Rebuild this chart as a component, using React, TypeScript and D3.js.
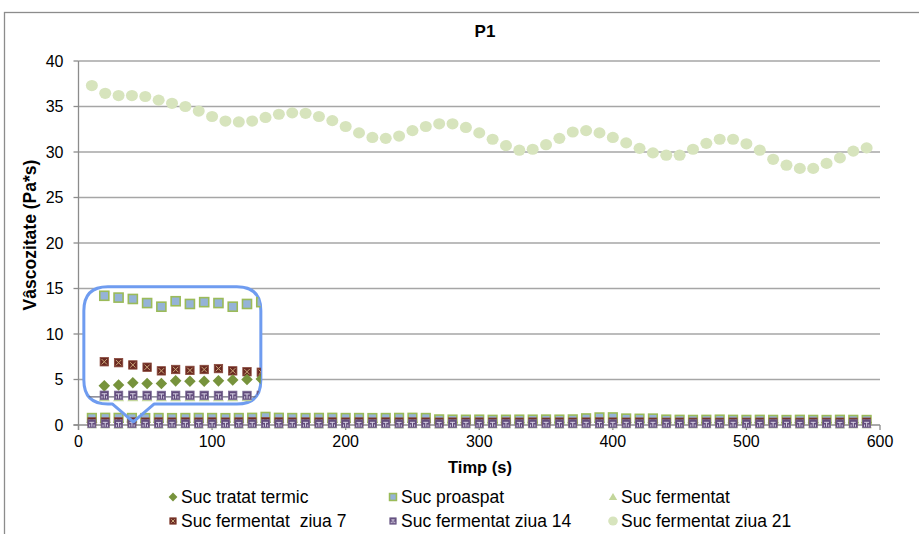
import React from "react";
import * as d3 from "d3";

// Time axis (s)
const times = [
  10, 20, 30, 40, 50, 60, 70, 80, 90, 100,
  110, 120, 130, 140, 150, 160, 170, 180, 190, 200,
  210, 220, 230, 240, 250, 260, 270, 280, 290, 300,
  310, 320, 330, 340, 350, 360, 370, 380, 390, 400,
  410, 420, 430, 440, 450, 460, 470, 480, 490, 500,
  510, 520, 530, 540, 550, 560, 570, 580, 590,
];

// Viscosity (Pa*s) per sample
const tratatTermic = [
  0.3, 0.31, 0.3, 0.32, 0.31, 0.3, 0.32, 0.31, 0.3, 0.31,
  0.32, 0.31, 0.3, 0.31, 0.3, 0.31, 0.3, 0.31, 0.3, 0.31,
  0.3, 0.29, 0.3, 0.31, 0.3, 0.29, 0.28, 0.29, 0.28, 0.29,
  0.28, 0.29, 0.28, 0.29, 0.28, 0.29, 0.28, 0.29, 0.3, 0.29,
  0.28, 0.29, 0.28, 0.27, 0.28, 0.27, 0.28, 0.27, 0.28, 0.27,
  0.28, 0.27, 0.28, 0.27, 0.28, 0.27, 0.28, 0.27, 0.28,
];
const proaspat = [
  0.78, 0.8, 0.79, 0.78, 0.77, 0.78, 0.77, 0.78, 0.79, 0.78,
  0.77, 0.78, 0.8, 0.9, 0.8, 0.78, 0.78, 0.79, 0.8, 0.78,
  0.78, 0.77, 0.78, 0.79, 0.8, 0.78, 0.62, 0.6, 0.59, 0.6,
  0.58, 0.59, 0.6, 0.6, 0.61, 0.6, 0.62, 0.74, 0.84, 0.85,
  0.72, 0.7, 0.72, 0.6, 0.58, 0.57, 0.58, 0.6, 0.58, 0.57,
  0.58, 0.57, 0.56, 0.58, 0.57, 0.56, 0.58, 0.57, 0.56,
];
const fermentat = [
  0.05, 0.05, 0.04, 0.05, 0.05, 0.04, 0.05, 0.05, 0.04, 0.05,
  0.05, 0.04, 0.05, 0.05, 0.04, 0.05, 0.05, 0.04, 0.05, 0.05,
  0.04, 0.05, 0.05, 0.04, 0.05, 0.05, 0.04, 0.05, 0.05, 0.04,
  0.05, 0.05, 0.04, 0.05, 0.05, 0.04, 0.05, 0.05, 0.04, 0.05,
  0.05, 0.04, 0.05, 0.05, 0.04, 0.05, 0.05, 0.04, 0.05, 0.05,
  0.04, 0.05, 0.05, 0.04, 0.05, 0.05, 0.04, 0.05, 0.05,
];
const fermentatZiua7 = [
  0.36, 0.35, 0.36, 0.35, 0.34, 0.35, 0.34, 0.35, 0.34, 0.35,
  0.34, 0.35, 0.36, 0.37, 0.35, 0.34, 0.35, 0.34, 0.35, 0.34,
  0.35, 0.34, 0.35, 0.34, 0.35, 0.34, 0.33, 0.34, 0.33, 0.34,
  0.33, 0.34, 0.33, 0.34, 0.33, 0.34, 0.33, 0.34, 0.35, 0.34,
  0.33, 0.34, 0.33, 0.32, 0.33, 0.32, 0.33, 0.32, 0.33, 0.32,
  0.33, 0.32, 0.33, 0.32, 0.33, 0.32, 0.33, 0.32, 0.33,
];
const fermentatZiua14 = [
  0.14, 0.14, 0.13, 0.14, 0.14, 0.13, 0.14, 0.14, 0.13, 0.14,
  0.14, 0.13, 0.14, 0.14, 0.13, 0.14, 0.14, 0.13, 0.14, 0.14,
  0.13, 0.14, 0.14, 0.13, 0.14, 0.14, 0.13, 0.14, 0.14, 0.13,
  0.14, 0.14, 0.13, 0.14, 0.14, 0.13, 0.14, 0.14, 0.13, 0.14,
  0.14, 0.13, 0.14, 0.14, 0.13, 0.14, 0.14, 0.13, 0.14, 0.14,
  0.13, 0.14, 0.14, 0.13, 0.14, 0.14, 0.13, 0.14, 0.14,
];
const fermentatZiua21 = [
  37.3, 36.45, 36.2, 36.2, 36.1, 35.7, 35.35, 35.0, 34.5, 33.9,
  33.4, 33.3, 33.4, 33.8, 34.15, 34.3, 34.25, 33.9, 33.45, 32.8,
  32.1, 31.6, 31.5, 31.75, 32.35, 32.8, 33.1, 33.1, 32.7, 32.1,
  31.4, 30.7, 30.2, 30.3, 30.8, 31.5, 32.2, 32.35, 32.1, 31.6,
  31.0, 30.4, 29.9, 29.65, 29.65, 30.3, 30.95, 31.4, 31.4, 30.9,
  30.2, 29.2, 28.55, 28.2, 28.2, 28.75, 29.35, 30.1, 30.45,
];

// Magnified detail of the first readings, shown inside the callout
const insetTimes = [10, 20, 30, 40, 50, 60, 70, 80, 90, 100, 110, 120];
const insetProaspat = [14.2, 14.0, 13.85, 13.4, 13.0, 13.6, 13.3, 13.5, 13.4, 13.0, 13.3, 13.5];
const insetZiua7 = [6.95, 6.85, 6.6, 6.35, 5.95, 6.1, 6.0, 6.1, 6.2, 5.95, 5.85, 5.8];
const insetTratat = [4.3, 4.4, 4.65, 4.55, 4.55, 4.85, 4.8, 4.8, 4.85, 4.95, 5.0, 5.05];
const insetZiua14 = [3.27, 3.26, 3.27, 3.26, 3.25, 3.26, 3.27, 3.26, 3.25, 3.26, 3.25, 3.26];
const insetFermentat = [3.05, 3.05, 3.05, 3.05, 3.05, 3.05, 3.05, 3.05, 3.05, 3.05, 3.05, 3.05];
const insetBaseline = 3.1;

// Callout outline in data units: box corners, pointer base and tip
const calloutBox = { t0: 4, t1: 136.5, v0: 2.3, v1: 15.2 };
const calloutPointer = { tLeft: 25.5, tRight: 56.5, tTip: 41, vTip: 0.35 };

const xTicks = [0, 100, 200, 300, 400, 500, 600];
const yTicks = [0, 5, 10, 15, 20, 25, 30, 35, 40];

const legendLabels = [
  "Suc tratat termic",
  "Suc proaspat",
  "Suc fermentat",
  "Suc fermentat  ziua 7",
  "Suc fermentat ziua 14",
  "Suc fermentat ziua 21",
];

const FONT = "'Liberation Sans', Arial, sans-serif";
const W = 919;
const H = 534;

const x = d3.scaleLinear().domain([0, 600]).range([78.5, 880]);
const y = d3.scaleLinear().domain([0, 40]).range([425, 61]);
const xInset = d3.scaleLinear().domain([10, 110]).range([104.3, 247]);

type Kind = "diamond" | "square" | "triangle" | "x7" | "p14" | "circle";

function Marker({ kind, cx, cy, s = 1 }: { kind: Kind; cx: number; cy: number; s?: number }) {
  if (kind === "diamond") {
    const r = 5.5 * s;
    return <path d={`M${cx},${cy - r}L${cx + r},${cy}L${cx},${cy + r}L${cx - r},${cy}Z`} fill="#77933C" />;
  }
  if (kind === "square") {
    const h = 4.3 * s;
    return (
      <rect x={cx - h} y={cy - h} width={2 * h} height={2 * h} fill="#95B3D7" stroke="#9BBB59" strokeWidth={1.6} />
    );
  }
  if (kind === "triangle") {
    const r = 5 * s;
    return (
      <path d={`M${cx},${cy - r}L${cx + r * 1.05},${cy + r * 0.75}L${cx - r * 1.05},${cy + r * 0.75}Z`} fill="#C3D69B" />
    );
  }
  if (kind === "x7") {
    const h = 4 * s;
    return (
      <g>
        <rect x={cx - h} y={cy - h} width={2 * h} height={2 * h} fill="#6B2A22" stroke="#8A4A3C" strokeWidth={0.8} />
        <path
          d={`M${cx - h + 1.5},${cy - h + 1.5}L${cx + h - 1.5},${cy + h - 1.5}M${cx + h - 1.5},${cy - h + 1.5}L${cx - h + 1.5},${cy + h - 1.5}`}
          stroke="#C9A77A"
          strokeWidth={1}
        />
      </g>
    );
  }
  if (kind === "p14") {
    const h = 4 * s;
    return (
      <g>
        <rect x={cx - h} y={cy - h} width={2 * h} height={2 * h} fill="#604A7B" stroke="#7A6A94" strokeWidth={0.8} />
        <path
          d={`M${cx - h + 1.5},${cy - h * 0.35}L${cx + h - 1.5},${cy - h * 0.35}M${cx},${cy - h * 0.35}L${cx},${cy + h - 1}M${cx - h * 0.55},${cy + h * 0.2}L${cx - h * 0.55},${cy + h - 1}M${cx + h * 0.55},${cy + h * 0.2}L${cx + h * 0.55},${cy + h - 1}`}
          stroke="#D8D2E4"
          strokeWidth={1}
        />
      </g>
    );
  }
  return <ellipse cx={cx} cy={cy} rx={6 * s} ry={5.6 * s} fill="#D7E4BD" />;
}

const mainSeries: { kind: Kind; values: number[] }[] = [
  { kind: "diamond", values: tratatTermic },
  { kind: "square", values: proaspat },
  { kind: "triangle", values: fermentat },
  { kind: "x7", values: fermentatZiua7 },
  { kind: "p14", values: fermentatZiua14 },
  { kind: "circle", values: fermentatZiua21 },
];

const insetSeries: { kind: Kind; values: number[] }[] = [
  { kind: "square", values: insetProaspat },
  { kind: "triangle", values: insetFermentat },
  { kind: "x7", values: insetZiua7 },
  { kind: "diamond", values: insetTratat },
  { kind: "p14", values: insetZiua14 },
];

function calloutPath(): string {
  const X0 = x(calloutBox.t0);
  const X1 = x(calloutBox.t1);
  const Y0 = y(calloutBox.v1);
  const Y1 = y(calloutBox.v0);
  const r = 24;
  const pl = x(calloutPointer.tLeft);
  const pr = x(calloutPointer.tRight);
  const tx = x(calloutPointer.tTip);
  const ty = y(calloutPointer.vTip);
  return [
    `M${X0 + r},${Y0}`,
    `L${X1 - r},${Y0}`,
    `Q${X1},${Y0} ${X1},${Y0 + r}`,
    `L${X1},${Y1 - r}`,
    `Q${X1},${Y1} ${X1 - r},${Y1}`,
    `L${pr},${Y1}`,
    `L${tx},${ty}`,
    `L${pl},${Y1}`,
    `L${X0 + r},${Y1}`,
    `Q${X0},${Y1} ${X0},${Y1 - r}`,
    `L${X0},${Y0 + r}`,
    `Q${X0},${Y0} ${X0 + r},${Y0}`,
    "Z",
  ].join(" ");
}

export default function App() {
  const [x0, x1] = x.range();
  const bubble = calloutPath();
  const legendCols = [173, 393, 613];
  const legendRows = [497, 521];
  const legendKinds: Kind[] = ["diamond", "square", "triangle", "x7", "p14", "circle"];

  return (
    <svg width={W} height={H} style={{ position: "absolute", left: 0, top: 0, background: "#fff" }} fontFamily={FONT}>
      <defs>
        <clipPath id="bubbleClip">
          <path d={bubble} />
        </clipPath>
      </defs>
      <rect x={0} y={0} width={W} height={H} fill="#fff" />
      {/* chart frame */}
      <rect x={4.5} y={12.5} width={W + 10} height={H + 10} fill="none" stroke="#8c8c8c" strokeWidth={1.3} />

      <text x={485} y={37} textAnchor="middle" fontSize={17} fontWeight="bold" fill="#000">
        P1
      </text>

      {/* gridlines */}
      {yTicks
        .filter((v) => v > 0)
        .map((v) => (
          <line key={`g${v}`} x1={x0} x2={x1} y1={y(v)} y2={y(v)} stroke="#a6a6a6" strokeWidth={1.3} />
        ))}

      {/* axes */}
      <line x1={x0} x2={x0} y1={y(40)} y2={y(0) + 5} stroke="#8c8c8c" strokeWidth={1.3} />
      <line x1={x0 - 5} x2={x1} y1={y(0)} y2={y(0)} stroke="#8c8c8c" strokeWidth={1.3} />
      {yTicks.map((v) => (
        <g key={`yt${v}`}>
          <line x1={x0 - 5} x2={x0} y1={y(v)} y2={y(v)} stroke="#8c8c8c" strokeWidth={1.3} />
          <text x={x0 - 15} y={y(v) + 5.5} textAnchor="end" fontSize={16} fill="#000">
            {v}
          </text>
        </g>
      ))}
      {xTicks.map((t) => (
        <g key={`xt${t}`}>
          <line x1={x(t)} x2={x(t)} y1={y(0)} y2={y(0) + 5} stroke="#8c8c8c" strokeWidth={1.3} />
          <text x={x(t)} y={y(0) + 22} textAnchor="middle" fontSize={16} fill="#000">
            {t}
          </text>
        </g>
      ))}

      <text x={480} y={473} textAnchor="middle" fontSize={16.5} fontWeight="bold" fill="#000">
        Timp (s)
      </text>
      <text
        transform={`translate(36,235) rotate(-90)`}
        textAnchor="middle"
        fontSize={17.5}
        fontWeight="bold"
        fill="#000"
      >
        Vâscozitate (Pa*s)
      </text>

      {/* callout background */}
      <path d={bubble} fill="#fff" />

      {/* series */}
      {mainSeries.map((s, si) => (
        <g key={`s${si}`}>
          {s.values.map((v, i) => (
            <Marker key={i} kind={s.kind} cx={x(times[i])} cy={y(v)} />
          ))}
        </g>
      ))}

      {/* callout outline and magnified detail */}
      <path d={bubble} fill="none" stroke="#6F9CF0" strokeWidth={3} strokeLinejoin="round" />
      <g clipPath="url(#bubbleClip)">
        <line
          x1={x(calloutBox.t0)}
          x2={x(calloutBox.t1)}
          y1={y(insetBaseline)}
          y2={y(insetBaseline)}
          stroke="#6d6d7a"
          strokeWidth={1.3}
        />
        {insetSeries.map((s, si) => (
          <g key={`is${si}`}>
            {s.values.map((v, i) => (
              <Marker key={i} kind={s.kind} cx={xInset(insetTimes[i])} cy={y(v)} s={1.05} />
            ))}
          </g>
        ))}
      </g>

      {/* legend */}
      {legendLabels.map((label, i) => {
        const col = i % 3;
        const row = Math.floor(i / 3);
        const mx = legendCols[col];
        const my = legendRows[row];
        return (
          <g key={`l${i}`}>
            <Marker kind={legendKinds[i]} cx={mx} cy={my} s={0.8} />
            <text x={mx + 8} y={my + 6} fontSize={17.5} fill="#000" style={{ whiteSpace: "pre" }}>
              {label}
            </text>
          </g>
        );
      })}
    </svg>
  );
}
